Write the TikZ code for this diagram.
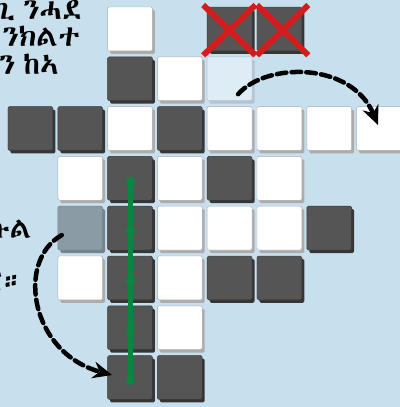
\documentclass[tikz,border=0pt]{standalone}
\usepackage{fontspec}
\IfFontExistsTF{Abyssinica SIL}{\newfontfamily\tigfont[WordSpace=0.6]{Abyssinica SIL}}{%
  \IfFontExistsTF{FreeSerif}{\newfontfamily\tigfont[WordSpace=0.6]{FreeSerif}}{\newfontfamily\tigfont{DejaVu Sans}}}
\usetikzlibrary{arrows.meta}
\definecolor{boardBg}{RGB}{200,223,238}
\definecolor{tileDark}{RGB}{85,85,85}
\definecolor{tileDarkShade}{RGB}{54,54,54}
\definecolor{tileWhiteShade}{RGB}{172,172,172}
\definecolor{tileFaded}{RGB}{139,155,166}
\definecolor{tileFadedShade}{RGB}{118,132,142}
\definecolor{tileGhost}{RGB}{222,236,246}
\definecolor{tileGhostShade}{RGB}{178,196,208}
\definecolor{crossRed}{RGB}{212,28,28}
\definecolor{routeGreen}{RGB}{10,135,62}
% one bevelled tile: column, row, face colour, shade colour
\newcommand{\boardTile}[4]{%
  \fill[#4, rounded corners=1pt] (#1+0.05,#2+0.06) rectangle ++(0.9,0.88);
  \filldraw[fill=#3, draw=#4, line width=0.3pt, rounded corners=1pt] (#1,#2) rectangle ++(0.9,0.88);
}
\tikzset{
  hoparrow/.style={line width=3.2pt, dash pattern=on 2.4mm off 1.3mm,
    -{Stealth[length=4.8mm, width=4.2mm]}},
  routeline/.style={routeGreen, line width=3.6pt, line cap=round},
  boardtext/.style={anchor=base east, inner sep=0pt, font=\tigfont\fontsize{21}{23}\selectfont}
}
\begin{document}
\begin{tikzpicture}
% board picture, 400x407 px at 0.025cm per px
\def\cellsz{1.245cm}
\useasboundingbox (0,0) rectangle (10,-10.175);
% Background
\fill[boardBg] (0,0) rectangle (10,-10.175);
% Text running in from the left edge
\node[boardtext] (lineA) at (2.05,-0.48) {ጊ ንሓደ};
\node[boardtext] (lineB) at (2.0,-1.17) {፣ ንክልተ};
\node[boardtext] (lineC) at (1.475,-1.85) {ግን ከኣ};
\node[boardtext] (lineD) at (0.8,-5.95) {ኩል};
\node[boardtext] (lineE) at (0.6,-7.25) {ር።};
\begin{scope}[shift={(0.2,-0.175)}, x=\cellsz, y=-\cellsz, line cap=round, line join=round]
  % White tiles
  \boardTile{2}{0}{white}{tileWhiteShade}
  \boardTile{3}{1}{white}{tileWhiteShade}
  \boardTile{2}{2}{white}{tileWhiteShade}
  \boardTile{4}{2}{white}{tileWhiteShade}
  \boardTile{5}{2}{white}{tileWhiteShade}
  \boardTile{6}{2}{white}{tileWhiteShade}
  \boardTile{7}{2}{white}{tileWhiteShade}
  \boardTile{1}{3}{white}{tileWhiteShade}
  \boardTile{3}{3}{white}{tileWhiteShade}
  \boardTile{5}{3}{white}{tileWhiteShade}
  \boardTile{3}{4}{white}{tileWhiteShade}
  \boardTile{4}{4}{white}{tileWhiteShade}
  \boardTile{5}{4}{white}{tileWhiteShade}
  \boardTile{1}{5}{white}{tileWhiteShade}
  \boardTile{3}{5}{white}{tileWhiteShade}
  \boardTile{3}{6}{white}{tileWhiteShade}
  % Dark tiles
  \boardTile{4}{0}{tileDark}{tileDarkShade}
  \boardTile{5}{0}{tileDark}{tileDarkShade}
  \boardTile{2}{1}{tileDark}{tileDarkShade}
  \boardTile{0}{2}{tileDark}{tileDarkShade}
  \boardTile{1}{2}{tileDark}{tileDarkShade}
  \boardTile{3}{2}{tileDark}{tileDarkShade}
  \boardTile{2}{3}{tileDark}{tileDarkShade}
  \boardTile{4}{3}{tileDark}{tileDarkShade}
  \boardTile{2}{4}{tileDark}{tileDarkShade}
  \boardTile{6}{4}{tileDark}{tileDarkShade}
  \boardTile{2}{5}{tileDark}{tileDarkShade}
  \boardTile{4}{5}{tileDark}{tileDarkShade}
  \boardTile{5}{5}{tileDark}{tileDarkShade}
  \boardTile{2}{6}{tileDark}{tileDarkShade}
  \boardTile{2}{7}{tileDark}{tileDarkShade}
  \boardTile{3}{7}{tileDark}{tileDarkShade}
  % Faded tiles (moved from / moved to)
  \boardTile{4}{1}{tileGhost}{tileGhostShade}
  \boardTile{1}{4}{tileFaded}{tileFadedShade}
  % Crossed-out tiles
  \begin{scope}[draw=crossRed, line width=4.2pt, line cap=butt]
    \draw (3.92,-0.04) -- (4.97,0.97);
    \draw (4.97,-0.04) -- (3.92,0.97);
    \draw (5.0,-0.04) -- (6.03,0.97);
    \draw (6.03,-0.04) -- (5.0,0.97);
  \end{scope}
  % Route down column 2
  \coordinate (routeA) at (2.46,3.5);
  \coordinate (routeB) at (2.46,4.5);
  \coordinate (routeC) at (2.46,5.5);
  \coordinate (routeD) at (2.46,6.5);
  \coordinate (routeE) at (2.46,7.5);
  \draw[routeline] (routeA) -- (routeE);
  \fill[routeGreen] (routeA) circle (0.09) (routeB) circle (0.09) (routeC) circle (0.09)
    (routeD) circle (0.09) (routeE) circle (0.09);
  % Jumps
  \coordinate (hopAfrom) at (4.62,1.75);
  \coordinate (hopAto) at (7.43,2.37);
  \draw[hoparrow] (hopAfrom) .. controls (5.2,1.1) and (6.9,1.1) .. (hopAto);
  \coordinate (hopBfrom) at (1.08,4.58);
  \coordinate (hopBto) at (2.09,7.39);
  \draw[hoparrow] (hopBfrom) .. controls (0.15,5.1) and (0.45,6.95) .. (hopBto);
\end{scope}
\end{tikzpicture}
\end{document}
